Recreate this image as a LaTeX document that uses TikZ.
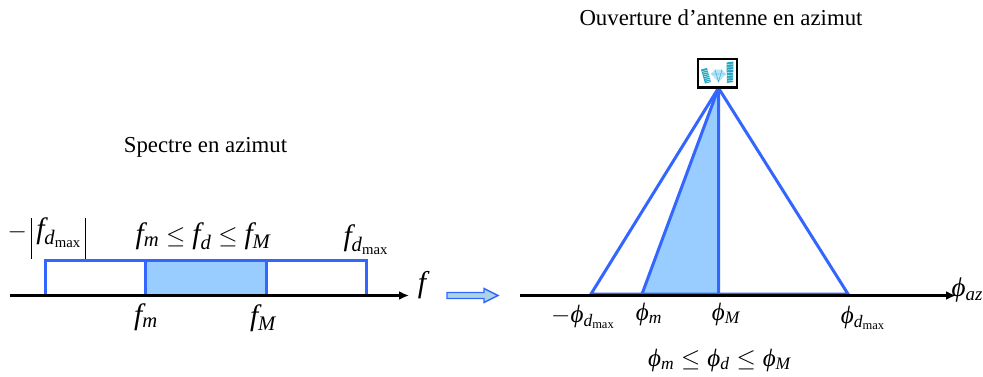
\documentclass[tikz,border=0pt]{standalone}
\usepackage{fontspec}
\setmainfont{Liberation Serif}
\usetikzlibrary{arrows.meta,calc}
\DeclareSymbolFont{tiit}{TU}{\rmdefault}{m}{it}
\Umathcode`f="7 \symtiit `f
\Umathcode`d="7 \symtiit `d
\Umathcode`m="7 \symtiit `m
\Umathcode`M="7 \symtiit `M
\Umathcode`a="7 \symtiit `a
\Umathcode`z="7 \symtiit `z
\Umathchardef\phiv="0 \symtiit "03D5
\newcommand{\tallbar}{\rule[-20pt]{1pt}{41pt}}
\definecolor{bandblue}{RGB}{51,102,255}
\definecolor{fillblue}{RGB}{153,204,255}
\definecolor{tealicon}{RGB}{40,165,190}
\definecolor{arrowfill}{RGB}{170,212,225}
\tikzset{
  every node/.style={inner sep=0pt,outer sep=0pt},
  axis/.style={black,line width=2.6pt,-{Latex[length=10pt,width=9pt]}},
  band/.style={bandblue,line width=3pt,line join=miter},
  title/.style={font=\fontsize{22.8}{26}\selectfont,anchor=center},
  sym/.style={font=\fontsize{30}{34}\selectfont},
  lab/.style={font=\fontsize{29.5}{32}\selectfont,anchor=center},
  philab/.style={font=\fontsize{25}{30}\selectfont,anchor=center}
}
\begin{document}
\begin{tikzpicture}[x=1pt,y=-1pt]
\useasboundingbox (0,0) rectangle (983,376);
% titles
\node[title] (t1) at (721,18) {Ouverture d’antenne en azimut};
\node[title] (t2) at (205.5,147) {Spectre en azimut};
% left spectrum
\coordinate (a0) at (10,295.5);
\coordinate (a1) at (409,295.5);
\coordinate (s0b) at (45,295); \coordinate (s0t) at (45,260);
\coordinate (s1b) at (145,295); \coordinate (s1t) at (145,260);
\coordinate (s2b) at (266,295); \coordinate (s2t) at (266,260);
\coordinate (s3b) at (366,295); \coordinate (s3t) at (366,260);
\fill[fillblue] (s1b) rectangle (s2t);
\draw[band] (s0b) -- (s0t) -- (s3t) -- (s3b);
\draw[band] (s1t) -- (s1b);
\draw[band] (s2t) -- (s2b);
\draw[axis] (a0) -- (a1);
\node[sym,anchor=center] (lf) at (422,285) {$f$};
\node[lab] (l1) at (47,238) {$-\,\tallbar\,f_{d_{\max}}\,\tallbar$};
\node[lab] (l2) at (203,236) {$f_m \le f_d \le f_M$};
\node[lab] (l3) at (366,240) {$f_{d_{\max}}$};
\node[lab] (l4) at (146,317) {$f_m$};
\node[lab] (l5) at (263,318) {$f_M$};
% block arrow
\draw[bandblue,line width=1.4pt,fill=arrowfill] (447,292.5) -- (484,292.5) -- (484,288.5) -- (498,295.5) -- (484,302.5) -- (484,298.5) -- (447,298.5) -- cycle;
% right cone
\coordinate (b0) at (520,295.5);
\coordinate (b1) at (956,295.5);
\coordinate (apex) at (718.5,88);
\coordinate (p0) at (591,294);
\coordinate (p1) at (642,294);
\coordinate (p2) at (718.5,294);
\coordinate (p3) at (848,294);
\fill[fillblue] (apex) -- (p1) -- (p2) -- cycle;
\draw[band] (p0) -- (apex) -- (p3) -- cycle;
\draw[band] (p1) -- (apex) -- (p2);
\draw[axis] (b0) -- (b1);
\node[sym,anchor=east,font=\fontsize{27}{30}\selectfont] (lphi) at (983,290) {$\phiv_{az}$};
\node[philab] (m1) at (583,317) {$-\phiv_{d_{\max}}$};
\node[philab] (m2) at (649,314) {$\phiv_m$};
\node[philab] (m3) at (726,314) {$\phiv_M$};
\node[philab] (m4) at (863,318) {$\phiv_{d_{\max}}$};
\node[philab] (m5) at (719.5,360) {$\phiv_m \le \phiv_d \le \phiv_M$};
% antenna icon
\draw[black,line width=2.5pt,fill=white] (698,59) rectangle (737,87.5);
\fill[tealicon] (701,69.5) -- (707,68) -- (711,82) -- (705,83.5) -- cycle;
\fill[tealicon] (726.5,62.5) -- (733.5,61.5) -- (733,82) -- (727,83) -- cycle;
\foreach \i in {0,...,6}{
  \draw[white,line width=.35pt] ($(726.5,64.5)!\i/6!(727,81)$) -- ++(7,-.5);
  \draw[white,line width=.35pt] ($(702,71.5)!\i/6!(706,82)$) -- ++(6,-1.5);
}
\fill[cyan!30] (711,74) -- (715,69.5) -- (722,69.5) -- (726,74) -- (718.5,82) -- cycle;
\draw[tealicon,line width=.4pt] (711,74) -- (726,74) (715,69.5) -- (718.5,82) -- (722,69.5);
\end{tikzpicture}
\end{document}
